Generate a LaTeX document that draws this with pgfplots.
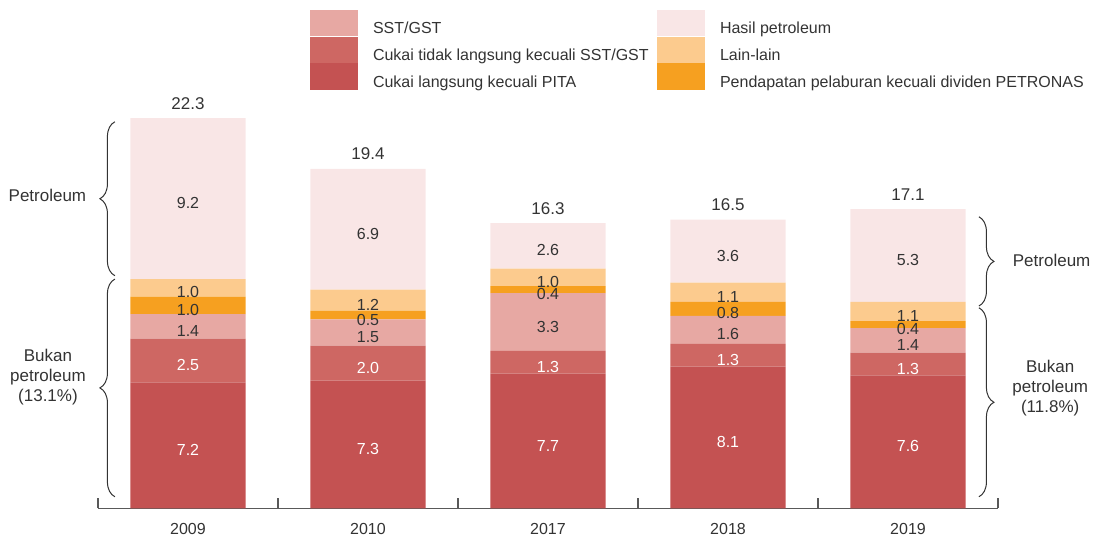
\documentclass[border=0pt]{standalone}
\usepackage{pgfplots}
\pgfplotsset{compat=1.18}
\usepackage{pgfplotstable}
\usepackage{fontspec}
\setmainfont{Liberation Sans}
\usetikzlibrary{decorations.pathreplacing}
\definecolor{cA}{RGB}{196,82,82}
\definecolor{cB}{RGB}{206,103,99}
\definecolor{cC}{RGB}{231,168,163}
\definecolor{cD}{RGB}{246,160,32}
\definecolor{cE}{RGB}{252,203,142}
\definecolor{cF}{RGB}{249,230,230}
\definecolor{txt}{RGB}{51,51,51}
\pgfplotstableread{
idx a b c d e f total
0 7.2 2.5 1.4 1.0 1.0 9.2 22.3
1 7.3 2.0 1.5 0.5 1.2 6.9 19.4
2 7.7 1.3 3.3 0.4 1.0 2.6 16.3
3 8.1 1.3 1.6 0.8 1.1 3.6 16.5
4 7.6 1.3 1.4 0.4 1.1 5.3 17.1
}\data
\pgfplotsset{
  seg/.style 2 args={fill=#1, draw=none, forget plot,
    nodes near coords={\pgfmathprintnumber[fixed,fixed zerofill,precision=1,assume math mode=true]{\pgfplotspointmeta}},
    every node near coord/.append style={anchor=center,
      font=\fontsize{8}{9.6}\selectfont, yshift=-2.2pt, text=#2}},
  common/.style={at={(49pt,15.25pt)}, anchor=south west,
    scale only axis, x=90pt, y=8.75pt,
    xmin=-0.5, xmax=4.5, ymin=0, ymax=27, clip=false},
}
\begin{document}
\begin{tikzpicture}
\useasboundingbox (0,0) rectangle (548.5pt,269.5pt);
\begin{axis}[
  common,
  ybar stacked, bar width=0.64,
  axis x line*=bottom, axis y line=none,
  x axis line style={draw=black!65, line width=0.6pt},
  xtick={0,1,2,3,4}, xticklabels={2009,2010,2017,2018,2019},
  major tick length=0pt,
  extra x ticks={-0.5,0.5,1.5,2.5,3.5,4.5}, extra x tick labels={},
  extra x tick style={major tick length=5pt, tick align=inside, tick style={draw=black!65, line width=0.6pt}},
  xticklabel style={font=\fontsize{8}{9.6}\selectfont, text=txt, yshift=-4pt},
  ytick=\empty,
  legend style={at={(0.2356,1.055)}, anchor=north west, draw=none, fill=none,
    inner sep=0pt, outer sep=0pt, row sep=0pt,
    nodes={inner sep=0pt, outer sep=0pt, font=\fontsize{8}{9.6}\selectfont, text=txt},
    /tikz/every odd column/.append style={column sep=7.5pt}},
  legend cell align=left,
  legend columns=2,
  legend image code/.code={\fill[draw=none,#1] (0pt,-3.5pt) rectangle (24pt,9.7pt);},
]
\addplot[seg={cA}{white}] table[x=idx,y=a]{\data};
\addplot[seg={cB}{white}] table[x=idx,y=b]{\data};
\addplot[seg={cC}{txt}] table[x=idx,y=c]{\data};
\addplot[seg={cD}{txt}] table[x=idx,y=d]{\data};
\addplot[seg={cE}{txt}] table[x=idx,y=e]{\data};
\addplot[seg={cF}{txt}] table[x=idx,y=f]{\data};
\addlegendimage{fill=cC,draw=none}\addlegendentry{\makebox[142pt][l]{SST/GST}}
\addlegendimage{fill=cF,draw=none}\addlegendentry{Hasil petroleum}
\addlegendimage{fill=cB,draw=none}\addlegendentry{\makebox[142pt][l]{Cukai tidak langsung kecuali SST/GST}}
\addlegendimage{fill=cE,draw=none}\addlegendentry{Lain-lain}
\addlegendimage{fill=cA,draw=none}\addlegendentry{\makebox[142pt][l]{Cukai langsung kecuali PITA}}
\addlegendimage{fill=cD,draw=none}\addlegendentry{Pendapatan pelaburan kecuali dividen PETRONAS}
% braces
\draw[txt, line width=0.5pt, decorate, decoration={brace, amplitude=7.5pt}] (axis cs:-0.406,13.3) -- (axis cs:-0.406,22.1);
\draw[txt, line width=0.5pt, decorate, decoration={brace, amplitude=7.5pt}] (axis cs:-0.406,0.67) -- (axis cs:-0.406,13.11);
\draw[txt, line width=0.5pt, decorate, decoration={brace, amplitude=7.5pt}] (axis cs:4.394,16.67) -- (axis cs:4.394,11.57);
\draw[txt, line width=0.5pt, decorate, decoration={brace, amplitude=7.5pt}] (axis cs:4.394,11.47) -- (axis cs:4.394,0.67);
\node[text=txt, font=\fontsize{8.5}{10}\selectfont] at (axis cs:-0.781,17.87) {Petroleum};
\node[text=txt, font=\fontsize{8.5}{10}\selectfont, align=center] at (axis cs:-0.778,7.51) {Bukan\\petroleum\\(13.1\%)};
\node[text=txt, font=\fontsize{8.5}{10}\selectfont] at (axis cs:4.798,14.2) {Petroleum};
\node[text=txt, font=\fontsize{8.5}{10}\selectfont, align=center] at (axis cs:4.79,6.87) {Bukan\\petroleum\\(11.8\%)};
\end{axis}
\begin{axis}[common, hide axis, ybar, bar width=0.64]
\addplot[draw=none, fill=none,
  nodes near coords={\pgfmathprintnumber[fixed,fixed zerofill,precision=1,assume math mode=true]{\pgfplotspointmeta}},
  every node near coord/.append style={anchor=south, text=txt, font=\fontsize{8.5}{10}\selectfont, yshift=1pt}]
  table[x=idx,y=total]{\data};
\end{axis}
\end{tikzpicture}
\end{document}
